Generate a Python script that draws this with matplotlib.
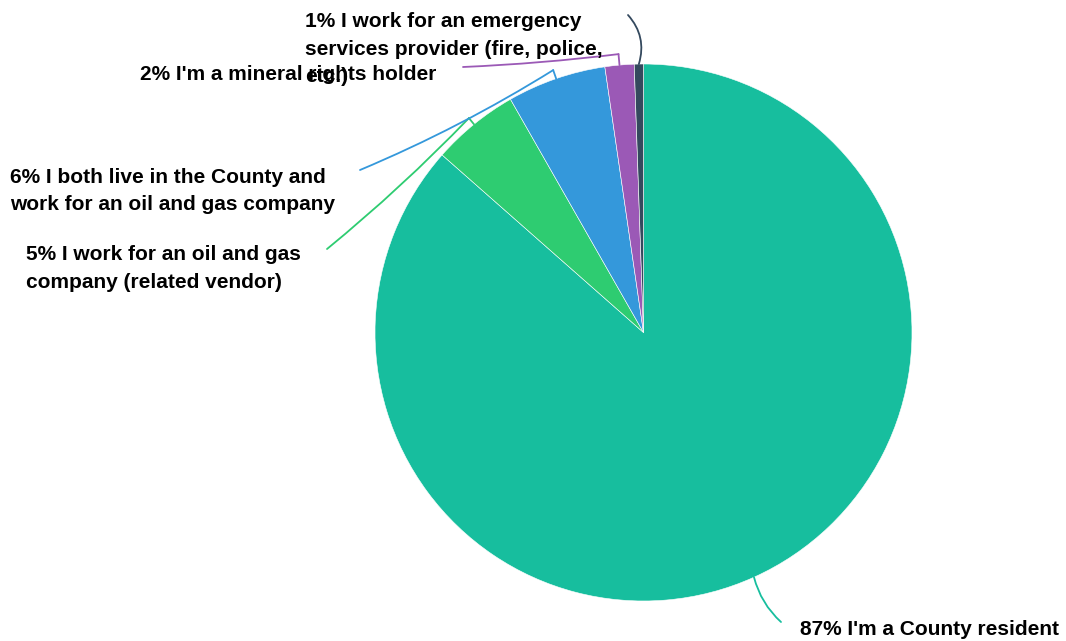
import numpy as np
import matplotlib
matplotlib.use("Agg")
import matplotlib.pyplot as plt

# ---- data ----
labels = [
    "87% I'm a County resident",
    "5% I work for an oil and gas\ncompany (related vendor)",
    "6% I both live in the County and\nwork for an oil and gas company",
    "2% I'm a mineral rights holder",
    "1% I work for an emergency\nservices provider (fire, police,\netc.)",
]
values = [86.5, 5.25, 5.95, 1.75, 0.55]
colors = ["#17be9e", "#2ecc71", "#3498db", "#9b59b6", "#34495e"]

# ---- layout (pixel space, image coordinates: y downward) ----
W, H = 1066, 641
cx, cy, R = 643.5, 332.5, 268.5
label_pos = [(800, 628), (26, 253), (10, 176), (140, 73), (305, 20)]
line_end = [(781, 622), (327, 249), (360, 170), (463, 67), (628, 15)]
hook = [0, 8, 9, 11, 0]
rads = [-0.15, 0.03, 0.04, 0.02, -0.28]
spacing = [1.55, 1.6, 1.52, 1.55, 1.58]
FS = 15.0

plt.rcParams['font.family'] = ['Liberation Sans', 'DejaVu Sans']
fig = plt.figure(figsize=(W / 100, H / 100), dpi=100)
ax = fig.add_axes([0, 0, 1, 1])

wedges, _ = ax.pie(values, colors=colors, startangle=90, counterclock=False,
                   center=(cx, H - cy), radius=R,
                   wedgeprops=dict(edgecolor="white", linewidth=0.4))
ax.set_xlim(0, W)
ax.set_ylim(0, H)
ax.set_aspect('equal')
ax.axis('off')

for i, w in enumerate(wedges):
    mid = np.deg2rad((w.theta1 + w.theta2) / 2)
    ex, ey = cx + R * np.cos(mid), (H - cy) + R * np.sin(mid)
    ox, oy = cx + (R + hook[i]) * np.cos(mid), (H - cy) + (R + hook[i]) * np.sin(mid)
    if hook[i]:
        ax.plot([ex, ox], [ey, oy], color=colors[i], lw=1.3, solid_capstyle='round')
    lx, ly = line_end[i]
    ax.annotate("", xy=(ox, oy), xytext=(lx, H - ly),
                arrowprops=dict(arrowstyle='-', color=colors[i], lw=1.3,
                                shrinkA=0, shrinkB=0,
                                connectionstyle=f"arc3,rad={rads[i]}"))
    tx, ty = label_pos[i]
    ax.text(tx, H - ty + 8, labels[i], ha='left', va='top',
            fontsize=FS, fontweight='bold', color='black', linespacing=spacing[i])

fig.savefig("out.png", dpi=100)
